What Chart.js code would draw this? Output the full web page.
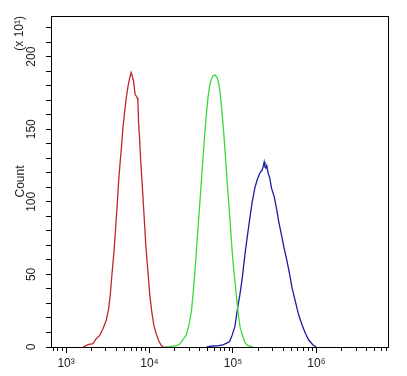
<!DOCTYPE html>
<html>
<head>
<meta charset="utf-8">
<title>Count histogram</title>
<script src="https://cdn.jsdelivr.net/npm/chart.js@4.4.1/dist/chart.umd.min.js"></script>
<style>
  html, body { margin: 0; padding: 0; background: #fff; }
  #wrap { width: 407px; height: 376px; }
</style>
</head>
<body>
<div id="wrap"><canvas id="chart" width="407" height="376"></canvas></div>
<script>
// flow histogram, 3 overlays on log x axis

var redX = [1600, 1830, 2100, 2300, 2530, 2770, 3030, 3240, 3380, 3540, 3750, 3920, 4100, 4260, 4450, 4630, 4800, 5030, 5250, 5500,
  5770, 6030, 6190, 6440, 6620, 6730, 6920, 7110, 7250, 7390, 7600, 7810, 8090, 8320, 8550, 8790, 9030, 9360, 9730, 10080,
  10650, 11260, 12000, 12810, 13760, 14820];
var redY = [0, 1.6, 2.3, 5.7, 8, 12.6, 18.4, 26.4, 35.6, 49.4, 65.5, 81.6, 97.7, 113.8, 127.6, 139, 150.6, 162, 171, 179,
  185, 189, 187, 183, 177, 173.6, 173, 171.7, 170, 155, 143.7, 130, 116, 104.6, 93, 81.6, 70, 58.6, 47, 35.6,
  24, 15, 9.2, 4.6, 1.1, 0];

var greenX = [15230, 17480, 21020, 23010, 25200, 27670, 29720, 31760, 33180, 34770, 36430, 38070, 39900, 41810, 43700, 45790,
  47970, 50130, 52530, 55050, 57530, 60780, 64220, 67300, 70520, 73690, 77220, 80910, 84570, 88610, 92840, 97030,
  101670, 106540, 111330, 116660, 122240, 131320, 140280, 150660, 172910];
var greenY = [0, 0.3, 0.9, 2, 5, 8.5, 15.4, 24.6, 36, 50, 66, 82, 98, 114, 130, 146,
  160, 171.7, 180, 184.4, 186.7, 187.4, 186, 182, 174, 162.5, 148.7, 132.6, 116.6, 100.5, 84.4, 68.3,
  54.5, 43, 31.5, 21.2, 13, 7.4, 2.8, 0.9, 0];

var blueX = [48380, 57050, 65470, 75110, 82740, 91090, 97550, 105360, 113500, 120890, 129170, 138780, 149410, 159200,
  170090, 182620, 195120, 209590, 223870, 230780, 236590, 241830, 247230, 254100, 264060, 275980, 289190, 311440,
  331680, 353400, 380740, 410200, 445300, 478500, 510940, 559710, 612880, 672970, 736900, 806870, 910920, 997240];
var blueY = [0, 0.7, 0.8, 1.4, 2.5, 3.8, 8, 14, 26.7, 35.9, 47.4, 63.4, 77.2, 88.7,
  100.2, 109.4, 115.2, 119.8, 122, 124.5, 127.4, 124, 123.2, 125, 119.8, 116.3, 109.4, 103.7,
  95.6, 86.4, 77.2, 68, 58.8, 49.7, 40.5, 31.2, 22, 15.2, 9.4, 4.8, 1.4, 0];

var yTickValues = [0, 10, 20, 30, 40, 50, 60, 70, 80, 90, 100, 110, 120, 130, 140, 150, 160, 170, 180, 190, 200, 210, 220];
var yTickLabels = { 0: '0', 50: '50', 100: '100', 150: '150', 200: '200' };
var xMajorTicks = [1000, 10000, 100000, 1000000];
var xMajorLabels = ['10\u00b3', '10\u2074', '10\u2075', '10\u2076'];
var xMinorTicks = [700, 800, 900,
  2000, 3000, 4000, 5000, 6000, 7000, 8000, 9000,
  20000, 30000, 40000, 50000, 60000, 70000, 80000, 90000,
  200000, 300000, 400000, 500000, 600000, 700000, 800000, 900000,
  2000000, 3000000, 4000000, 5000000, 6000000, 7000000];

var X_MIN = 660, X_MAX = 7200000, Y_MIN = 0, Y_MAX = 228;
var FONT = { family: "'Liberation Sans Narrow', 'Liberation Sans', Arial, sans-serif", size: 12 };
var TEXT = '#222';

function toPoints(xs, ys) {
  return xs.map(function (x, i) { return { x: x, y: ys[i] }; });
}

function line(xs, ys, color) {
  return {
    data: toPoints(xs, ys),
    borderColor: color,
    borderWidth: 1.3,
    pointRadius: 0,
    showLine: true,
    tension: 0,
    fill: false
  };
}

function fixedTicks(values) {
  return function (scale) {
    scale.ticks = values.map(function (v) { return { value: v }; });
  };
}

function fixSize(w, h) {
  return function (scale) {
    if (w !== null) scale.width = w;
    if (h !== null) scale.height = h;
  };
}

// bare axis, only used for the frame line or a title
function frameAxis(position, weight) {
  return {
    type: 'linear',
    position: position,
    weight: weight,
    grid: { display: false },
    ticks: { display: false },
    border: { display: true, color: '#000', width: 1 },
    afterFit: position === 'top' || position === 'bottom' ? fixSize(null, 0) : fixSize(0, null)
  };
}

var topAxis = frameAxis('top', 0);
var rightAxis = frameAxis('right', 0);
var unitAxis = frameAxis('left', 10);
unitAxis.border = { display: false };
unitAxis.title = { display: true, text: '(x 10\u00b9)', align: 'end', color: TEXT, font: FONT, padding: { top: 12, bottom: 0 } };

new Chart(document.getElementById('chart').getContext('2d'), {
  type: 'scatter',
  data: {
    datasets: [
      line(redX, redY, '#c0262c'),
      line(greenX, greenY, '#3ad83a'),
      line(blueX, blueY, '#1c1ca0')
    ]
  },
  options: {
    responsive: false,
    animation: false,
    layout: { padding: { left: 0, top: 16, right: 19, bottom: 0 } },
    plugins: { legend: { display: false }, tooltip: { enabled: false } },
    scales: {
      x: {
        type: 'logarithmic',
        position: 'bottom',
        weight: 1,
        min: X_MIN,
        max: X_MAX,
        afterBuildTicks: fixedTicks(xMajorTicks),
        afterFit: fixSize(null, 29),
        grid: { display: true, drawOnChartArea: false, drawTicks: true, tickLength: 6, color: '#000', lineWidth: 1 },
        border: { display: true, color: '#000', width: 1 },
        ticks: {
          autoSkip: false,
          maxRotation: 0,
          padding: 3,
          color: TEXT,
          font: FONT,
          callback: function (v) {
            var i = xMajorTicks.indexOf(v);
            return i >= 0 ? xMajorLabels[i] : '';
          }
        }
      },
      xMinor: {
        type: 'logarithmic',
        position: 'bottom',
        weight: 0,
        min: X_MIN,
        max: X_MAX,
        afterBuildTicks: fixedTicks(xMinorTicks),
        afterFit: fixSize(null, 0),
        grid: { display: true, drawOnChartArea: false, drawTicks: true, tickLength: 4, color: '#000', lineWidth: 1 },
        border: { display: false },
        ticks: { display: false, autoSkip: false }
      },
      y: {
        type: 'linear',
        position: 'left',
        weight: 0,
        min: Y_MIN,
        max: Y_MAX,
        afterBuildTicks: fixedTicks(yTickValues),
        afterFit: fixSize(51, null),
        grid: { display: true, drawOnChartArea: false, drawTicks: true, tickLength: 5, color: '#000', lineWidth: 1 },
        border: { display: true, color: '#000', width: 1 },
        title: { display: true, text: 'Count', color: TEXT, font: FONT, padding: { top: 13, bottom: 0 } },
        ticks: {
          autoSkip: false,
          minRotation: 90,
          maxRotation: 90,
          crossAlign: 'center',
          padding: 4,
          color: TEXT,
          font: FONT,
          callback: function (v) { return yTickLabels[v] || ''; }
        }
      },
      yUnit: unitAxis,
      xTop: topAxis,
      yRight: rightAxis
    }
  }
});
</script>
</body>
</html>
